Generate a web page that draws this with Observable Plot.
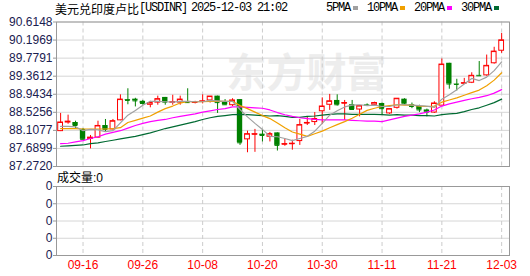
<!DOCTYPE html>
<html><head><meta charset="utf-8">
<script src="https://cdn.jsdelivr.net/npm/d3@7"></script>
<script src="https://cdn.jsdelivr.net/npm/@observablehq/plot@0.6"></script>
<style>
body{margin:0;background:#fff;}
#wrap{position:relative;width:530px;height:276px;overflow:hidden;font-family:"Liberation Sans",Arial,sans-serif;}
.abs{position:absolute;white-space:nowrap;}
.cjk{font-family:"Noto Sans CJK SC",sans-serif;}
.mono{font-family:"Liberation Mono",monospace;letter-spacing:-1.2px;}
#legend span.sw{display:inline-block;width:5px;height:4px;margin-left:3px;margin-right:9px;vertical-align:middle;}
#title span{position:absolute;top:0;white-space:nowrap;}
</style></head><body>
<div id="wrap">
  <div id="main" class="abs" style="left:0;top:0"></div>
  <div id="vol" class="abs" style="left:0;top:172px"></div>
  <div id="title" class="abs" style="left:55px;top:0px;width:240px;height:17px;font-size:12px;line-height:17px;color:#000"></div>
  <div id="legend" class="abs mono" style="left:326px;top:0px;font-size:12px;line-height:17px;color:#000"></div>
  <div id="vollabel" class="abs" style="left:57px;top:169px;font-size:12px;line-height:16px;color:#000"></div>
</div>
<script>
const titleName = "美元兑印度卢比";
const titleParts = ["[USDINR]", "2025-12-03", "21:02"];
const volumeName = "成交量";
const volumeNow = 0;

const dates = ["09-11","09-12","09-15","09-16","09-17","09-18","09-19","09-22","09-23","09-24",
"09-25","09-26","09-29","09-30","10-01","10-02","10-03","10-06","10-07","10-08",
"10-09","10-10","10-13","10-14","10-15","10-16","10-17","10-20","10-21","10-22",
"10-23","10-24","10-27","10-28","10-29","10-30","10-31","11-03","11-04","11-05",
"11-06","11-07","11-10","11-11","11-12","11-13","11-14","11-17","11-18","11-19",
"11-20","11-21","11-24","11-25","11-26","11-27","11-28","12-01","12-02","12-03"];

const open  = [88.09,88.29,88.29,88.13,87.91,87.94,88.22,88.13,88.34,88.82,
88.83,88.78,88.70,88.75,88.87,88.75,88.75,88.76,88.745,88.77,
88.80,88.90,88.76,88.69,88.82,87.90,88.01,88.02,87.96,88.05,
87.78,87.79,87.86,88.27,88.30,88.55,88.70,88.80,88.73,88.70,
88.59,88.70,88.70,88.73,88.50,88.63,88.83,88.70,88.66,88.58,
88.52,88.68,89.66,89.18,89.19,89.21,89.38,89.38,89.66,89.95];
const high  = [88.50,88.46,88.32,88.15,87.99,88.32,88.36,88.36,88.93,89.07,
88.85,88.80,88.78,88.90,88.87,88.92,88.90,89.07,88.78,88.93,
88.89,88.90,88.82,88.84,88.82,88.09,88.13,88.13,88.06,88.05,
87.90,87.88,88.36,88.41,88.52,88.86,88.94,88.93,88.80,88.80,
88.67,88.72,88.76,88.74,88.60,88.84,88.84,88.74,88.69,88.60,
88.77,89.76,89.66,89.29,89.31,89.44,89.70,89.85,90.03,90.35];
const low   = [88.08,88.25,88.15,87.89,87.68,87.93,88.06,88.12,88.33,88.70,
88.65,88.69,88.63,88.69,88.69,88.69,88.69,88.73,88.72,88.72,
88.74,88.50,88.69,88.66,87.76,87.59,87.60,87.84,87.84,87.63,
87.74,87.65,87.76,88.22,88.22,88.24,88.57,88.67,88.34,88.57,
88.42,88.66,88.67,88.46,88.48,88.60,88.70,88.61,88.52,88.42,
88.50,88.68,89.06,89.02,89.17,89.19,89.36,89.36,89.64,89.89];
const close = [88.29,88.31,88.22,87.90,87.94,88.21,88.13,88.32,88.82,88.80,
88.79,88.73,88.74,88.83,88.76,88.76,88.82,88.75,88.755,88.78,
88.89,88.75,88.70,88.80,87.82,88.02,88.02,87.99,88.02,87.76,
87.79,87.80,88.23,88.28,88.37,88.66,88.78,88.70,88.74,88.59,
88.67,88.69,88.74,88.61,88.60,88.84,88.72,88.66,88.58,88.53,
88.73,89.63,89.18,89.17,89.20,89.37,89.37,89.60,89.93,90.19];

const ma5  = [88.20,88.20,88.19,88.10,88.13,88.12,88.08,88.10,88.28,88.46,
88.57,88.69,88.78,88.78,88.77,88.76,88.78,88.78,88.77,88.77,
88.80,88.79,88.78,88.78,88.59,88.42,88.27,88.13,87.97,87.96,
87.92,87.87,87.92,87.97,88.09,88.27,88.46,88.56,88.65,88.69,
88.70,88.68,88.69,88.66,88.66,88.70,88.70,88.69,88.68,88.67,
88.64,88.83,88.93,89.05,89.18,89.31,89.26,89.34,89.49,89.69];
const ma10 = [88.15,88.15,88.15,88.14,88.14,88.14,88.14,88.15,88.17,88.29,
88.34,88.39,88.44,88.53,88.61,88.67,88.74,88.78,88.77,88.77,
88.78,88.78,88.78,88.78,88.68,88.61,88.53,88.45,88.38,88.28,
88.17,88.07,88.02,87.97,88.03,88.09,88.17,88.24,88.31,88.39,
88.48,88.57,88.62,88.66,88.68,88.70,88.69,88.69,88.67,88.66,
88.67,88.76,88.81,88.86,88.92,88.98,89.04,89.14,89.27,89.44];
const ma20 = [87.80,87.81,87.84,87.87,87.92,87.96,88.02,88.06,88.10,88.16,
88.22,88.27,88.31,88.34,88.36,88.40,88.43,88.46,88.49,88.53,
88.56,88.59,88.61,88.65,88.65,88.64,88.63,88.62,88.58,88.52,
88.47,88.43,88.40,88.38,88.36,88.35,88.35,88.35,88.35,88.34,
88.33,88.32,88.32,88.31,88.35,88.39,88.43,88.46,88.49,88.53,
88.58,88.67,88.72,88.76,88.80,88.84,88.87,88.91,88.97,89.05];
const ma30 = [87.74,87.75,87.76,87.77,87.80,87.82,87.85,87.88,87.91,87.94,
87.97,88.01,88.05,88.10,88.15,88.19,88.23,88.27,88.31,88.36,
88.40,88.43,88.45,88.47,88.48,88.47,88.46,88.45,88.44,88.45,
88.43,88.41,88.41,88.43,88.44,88.46,88.48,88.49,88.49,88.48,
88.48,88.48,88.48,88.47,88.46,88.47,88.46,88.46,88.45,88.45,
88.44,88.47,88.49,88.50,88.54,88.59,88.63,88.69,88.75,88.83];

const priceTicks = [87.2720,87.6899,88.1077,88.5256,88.9434,89.3612,89.7791,90.1969,90.6148];
const dateTicks = ["09-16","09-26","10-08","10-20","10-30","11-11","11-21","12-03"];
const volTicks = [0,1,2,3,4];
const volTickLabel = "0";
const maNames = ["5PMA","10PMA","20PMA","30PMA"];
const maColors = ["#a0a0a0","#f0a000","#ff00ff","#006a32"];

const RED = "#ff0000", GREEN = "#008000";
const AXIS_TEXT = "#1a2050", BORDER = "#999999", GRID = "#d6d6d6", VGRID = "#cccccc";

const rows = dates.map((d, i) => ({i, date: d, o: open[i], h: high[i], l: low[i], c: close[i],
  ma5: ma5[i], ma10: ma10[i], ma20: ma20[i], ma30: ma30[i]}));
const up = rows.filter(d => d.c >= d.o);
const down = rows.filter(d => d.c < d.o);
const tickIdx = dateTicks.map(t => dates.indexOf(t));
const xDomain = [-0.55, dates.length + 0.05];
const hw = 0.32;

const main = Plot.plot({
  width: 530, height: 172,
  marginLeft: 56, marginRight: 21, marginTop: 21.5, marginBottom: 6,
  style: {background: "transparent", fontFamily: "Liberation Sans, Arial, sans-serif", fontSize: "12px"},
  x: {domain: xDomain, axis: null},
  y: {domain: [priceTicks[0], priceTicks[priceTicks.length - 1]], axis: null},
  marks: [
    Plot.text(["东方财富"], {frameAnchor: "top-left", dx: 250, dy: 52, fill: "#ededed",
      fontSize: 40, fontWeight: "bold", fontFamily: "Noto Sans CJK SC", textAnchor: "middle", lineAnchor: "middle"}),
    Plot.ruleY(priceTicks, {stroke: GRID}),
    Plot.ruleX(tickIdx, {stroke: VGRID, strokeDasharray: "4,3"}),
    Plot.ruleX(up, {x: "i", y1: "l", y2: "h", stroke: RED}),
    Plot.ruleX(down, {x: "i", y1: "l", y2: "h", stroke: GREEN}),
    Plot.rect(up, {x1: d => d.i - hw, x2: d => d.i + hw, y1: "o", y2: "c", fill: "#fff", stroke: RED}),
    Plot.rect(down, {x1: d => d.i - hw - 0.04, x2: d => d.i + hw + 0.04, y1: "o", y2: "c", fill: GREEN}),
    Plot.ruleY(up, {y: "c", x1: d => d.i - hw, x2: d => d.i + hw, stroke: RED}),
    Plot.ruleY(down, {y: "c", x1: d => d.i - hw, x2: d => d.i + hw, stroke: GREEN}),
    Plot.line(rows, {x: "i", y: "ma30", stroke: maColors[3], strokeWidth: 1.2}),
    Plot.line(rows, {x: "i", y: "ma20", stroke: maColors[2], strokeWidth: 1.2}),
    Plot.line(rows, {x: "i", y: "ma10", stroke: maColors[1], strokeWidth: 1.2}),
    Plot.line(rows, {x: "i", y: "ma5", stroke: maColors[0], strokeWidth: 1.2}),
    Plot.frame({stroke: BORDER}),
    Plot.axisY(priceTicks, {tickFormat: d => d.toFixed(4), tickSize: 3, tickPadding: 1,
      fontSize: 12, fill: AXIS_TEXT, stroke: BORDER, label: null})
  ]
});
document.getElementById("main").appendChild(main);

const vol = Plot.plot({
  width: 530, height: 104,
  marginLeft: 56, marginRight: 21, marginTop: 14, marginBottom: 21,
  style: {background: "transparent", fontFamily: "Liberation Sans, Arial, sans-serif", fontSize: "12px"},
  x: {domain: xDomain, axis: null},
  y: {domain: [volTicks[0], volTicks[volTicks.length - 1]], axis: null},
  marks: [
    Plot.ruleY(volTicks, {stroke: GRID}),
    Plot.ruleX(tickIdx, {stroke: VGRID, strokeDasharray: "4,3"}),
    Plot.frame({stroke: BORDER}),
    Plot.axisY(volTicks, {tickFormat: () => volTickLabel, tickSize: 3, tickPadding: 1,
      fontSize: 12, fill: AXIS_TEXT, stroke: BORDER, label: null}),
    Plot.axisX(tickIdx, {tickFormat: i => dates[i], tickSize: 0, tickPadding: 5,
      fontSize: 12, fill: RED, label: null})
  ]
});
document.getElementById("vol").appendChild(vol);

const partLeft = [84, 136, 202];
document.getElementById("title").innerHTML =
  `<span class="cjk" style="left:0">${titleName}</span>` +
  titleParts.map((p, k) => `<span class="mono" style="left:${partLeft[k]}px">${p}</span>`).join("");
document.getElementById("legend").innerHTML = maNames.map((n, k) =>
  `<span>${n}</span><span class="sw" style="background:${maColors[k]}"></span>`).join("");
document.getElementById("vollabel").innerHTML =
  `<span class="cjk">${volumeName}</span><span>:${volumeNow}</span>`;
</script>
</body></html>
